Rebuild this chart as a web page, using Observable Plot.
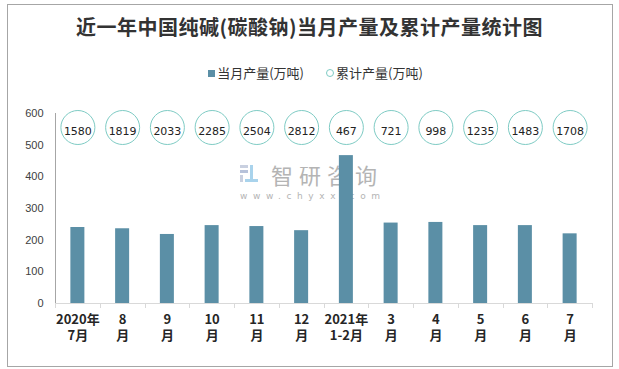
<!DOCTYPE html>
<html><head><meta charset="utf-8">
<script src="https://cdn.jsdelivr.net/npm/d3@7"></script>
<script src="https://cdn.jsdelivr.net/npm/@observablehq/plot@0.6"></script>
<style>
body{margin:0;background:#fff;}
#wrap{position:relative;width:619px;height:369px;overflow:hidden;font-family:"Noto Sans CJK SC",sans-serif;}
#border{position:absolute;left:7px;top:4px;width:604px;height:361px;border:1px solid #a6a6a6;}
#title{position:absolute;left:0;top:13px;width:619px;text-align:center;font-size:20px;letter-spacing:0.5px;font-weight:bold;color:#333;line-height:28px;}
#legend{position:absolute;left:6px;top:63px;width:619px;text-align:center;font-size:13px;color:#333;line-height:20px;}
#legend span.item{margin:0 11px;}
#legend .sq{display:inline-block;width:7px;height:7px;background:#5b8fa6;margin-right:2px;vertical-align:1px;}
#legend .ci{display:inline-block;width:6px;height:6px;border:1px solid #7ecbc4;border-radius:50%;margin-right:2px;vertical-align:1px;}
#wm{position:absolute;left:238px;top:162px;color:#b4b4b4;}
#wm .logo{position:absolute;left:2px;top:3px;width:18px;height:17px;}
#wm .cn{position:absolute;left:33px;top:-3px;font-size:22px;letter-spacing:6px;white-space:nowrap;line-height:30px;}
#wm .en{position:absolute;left:2px;top:29px;font-size:9px;letter-spacing:5.6px;white-space:nowrap;font-family:"DejaVu Sans";}
#chart{position:absolute;left:0;top:95px;}
</style></head>
<body>
<div id="wrap">
  <div id="border"></div>
  <div id="title">近一年中国纯碱(碳酸钠)当月产量及累计产量统计图</div>
  <div id="legend"><span class="item"><span class="sq"></span>当月产量(万吨)</span><span class="item"><span class="ci"></span>累计产量(万吨)</span></div>
  <div id="wm"><svg class="logo" viewBox="0 0 18 17"><rect x="0" y="0" width="8" height="3" fill="#c9d0e0"/><rect x="0" y="5" width="8" height="3" fill="#b7c2da"/><rect x="0" y="10" width="3" height="7" fill="#c9d0e0"/><rect x="10" y="0" width="3" height="17" fill="#a9d3ec"/><rect x="5" y="14" width="13" height="3" fill="#a9d3ec"/></svg><div class="cn">智研咨询</div><div class="en">www.chyxx.com</div></div>
  <div id="chart"></div>
</div>
<script>
const categories = ["2020年7月","8月","9月","10月","11月","12月","2021年1-2月","3月","4月","5月","6月","7月"];
const labelLine1 = ["2020年","8","9","10","11","12","2021年","3","4","5","6","7"];
const labelLine2 = ["7月","月","月","月","月","月","1-2月","月","月","月","月","月"];
const monthly = [240, 236, 218, 246, 243, 230, 467, 254, 256, 246, 246, 220];
const cumulative = [1580, 1819, 2033, 2285, 2504, 2812, 467, 721, 998, 1235, 1483, 1708];
const yTicks = [0, 100, 200, 300, 400, 500, 600];

const data = categories.map((c, i) => ({cat: c, monthly: monthly[i], cumulative: cumulative[i]}));
const line1 = new Map(categories.map((c, i) => [c, labelLine1[i]]));
const line2 = new Map(categories.map((c, i) => [c, labelLine2[i]]));

const boundaryTicks = (index, scales, values, dims) => {
  const g = d3.create("svg:g");
  const n = categories.length;
  const x0 = dims.marginLeft, x1 = dims.width - dims.marginRight;
  const y0 = scales.y(0);
  const step = (x1 - x0) / n;
  g.append("line").attr("x1", x0 + 0.5).attr("x2", x0 + 0.5)
    .attr("y1", scales.y(600)).attr("y2", y0).attr("stroke", "#a6a6a6");
  for (let k = 0; k <= n; k++) {
    const xx = Math.round(x0 + k * step) + 0.5;
    g.append("line").attr("x1", xx).attr("x2", xx).attr("y1", y0).attr("y2", y0 + 5).attr("stroke", "#d9d9d9");
  }
  return g.node();
};

const xAxisText = {tickSize: 0, fontSize: 13, fontWeight: "bold", fontFamily: "Noto Sans CJK SC", color: "#262626", label: null};

const chart = Plot.plot({
  width: 619,
  height: 255,
  marginTop: 18,
  marginBottom: 47,
  marginLeft: 55,
  marginRight: 27,
  style: {background: "transparent", overflow: "visible"},
  x: {domain: categories, paddingInner: 0.687, paddingOuter: 0.3435, align: 0.5, round: false, label: null},
  y: {domain: [0, 600], ticks: yTicks, label: null},
  marks: [
    Plot.barY(data, {x: "cat", y: "monthly", fill: "#5b8fa6"}),
    Plot.ruleY([0], {stroke: "#d9d9d9"}),
    boundaryTicks,
    Plot.dot(data, {x: "cat", frameAnchor: "top", dy: 14, r: 17, fill: "white", stroke: "#7ecbc4", strokeWidth: 1}),
    Plot.text(data, {x: "cat", frameAnchor: "top", dy: 14, text: d => String(d.cumulative), fontSize: 11, fontFamily: "DejaVu Sans", fill: "#222"}),
    Plot.axisY({ticks: yTicks, tickSize: 0, tickPadding: 12, fontSize: 11, fontFamily: "Liberation Sans", color: "#404040", label: null}),
    Plot.axisX({...xAxisText, tickPadding: 11, tickFormat: d => line1.get(d)}),
    Plot.axisX({...xAxisText, tickPadding: 27, tickFormat: d => line2.get(d)})
  ]
});
document.getElementById("chart").appendChild(chart);
</script>
</body></html>
